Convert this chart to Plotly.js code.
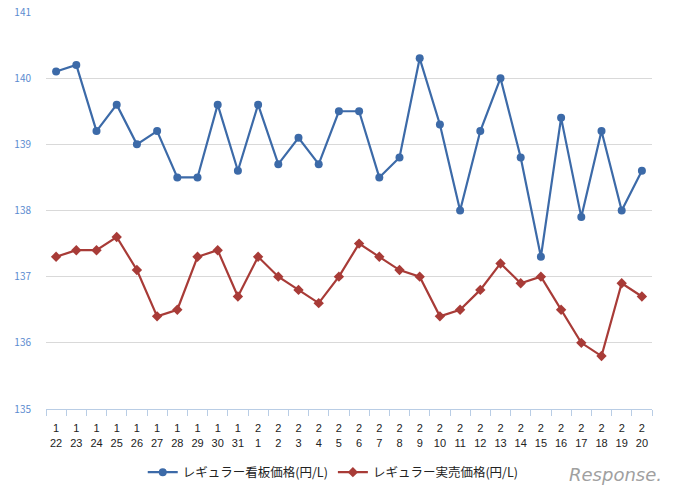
<!DOCTYPE html>
<html>
<head>
<meta charset="utf-8">
<script src="https://cdn.plot.ly/plotly-3.0.1.min.js"></script>
<style>html,body{margin:0;padding:0;background:#fff;}#chart{width:687px;height:500px;}</style>
</head>
<body>
<div id="chart"></div>
<script>
const months = [1,1,1,1,1,1,1,1,1,1,2,2,2,2,2,2,2,2,2,2,2,2,2,2,2,2,2,2,2,2];
const days = [22,23,24,25,26,27,28,29,30,31,1,2,3,4,5,6,7,8,9,10,11,12,13,14,15,16,17,18,19,20];
const signPrice = [140.1,140.2,139.2,139.6,139.0,139.2,138.5,138.5,139.6,138.6,139.6,138.7,139.1,138.7,139.5,139.5,138.5,138.8,140.3,139.3,138.0,139.2,140.0,138.8,137.3,139.4,137.9,139.2,138.0,138.6];
const salePrice = [137.3,137.4,137.4,137.6,137.1,136.4,136.5,137.3,137.4,136.7,137.3,137.0,136.8,136.6,137.0,137.5,137.3,137.1,137.0,136.4,136.5,136.8,137.2,136.9,137.0,136.5,136.0,135.8,136.9,136.7];
const seriesNames = ['レギュラー看板価格(円/L)','レギュラー実売価格(円/L)'];

const cats = months.map((m,i)=>m+'<br>'+days[i]);

const traces = [
  {x: cats, y: signPrice, name: seriesNames[0], type:'scatter', mode:'lines+markers',
   line:{color:'#3c6aa8', width:2.2}, marker:{symbol:'circle', size:8, color:'#3c6aa8'}},
  {x: cats, y: salePrice, name: seriesNames[1], type:'scatter', mode:'lines+markers',
   line:{color:'#a83b37', width:2.2}, marker:{symbol:'diamond', size:8, color:'#a83b37'}}
];

const layout = {
  width:687, height:500,
  margin:{l:46, r:35, t:12, b:89},
  paper_bgcolor:'#fff', plot_bgcolor:'#fff',
  font:{family:'"Noto Sans CJK JP", "DejaVu Sans", sans-serif', size:10, color:'#222'},
  showlegend:true,
  legend:{orientation:'h', x:0.474, xanchor:'center', y:-0.16, yanchor:'middle',
          font:{size:12.5, color:'#222'}, itemwidth:30, tracegroupgap:0},
  xaxis:{type:'category', range:[-0.5, 29.5], showgrid:false, zeroline:false,
         showline:true, linecolor:'#b9cde5', linewidth:1, tickangle:0,
         ticks:'outside', tickson:'boundaries', ticklen:6, tickcolor:'#b9cde5',
         ticklabelstandoff:9,
         tickfont:{size:11, color:'#222', family:'"Liberation Sans", Arial, sans-serif'}, fixedrange:true},
  yaxis:{range:[135,141], dtick:1, showgrid:true, gridcolor:'#d9d9d9', gridwidth:1,
         zeroline:false, showline:false, ticks:'', ticklabelstandoff:14,
         tickfont:{size:10, color:'#5b8bd0'}, fixedrange:true},
  annotations:[{text:'<i>Response.</i>', xref:'paper', yref:'paper',
                x:1.02, y:-0.165, xanchor:'right', yanchor:'middle', showarrow:false,
                font:{size:18, color:'#a0a0a0', family:'"DejaVu Sans", sans-serif'}}]
};

Plotly.newPlot('chart', traces, layout, {displayModeBar:false, staticPlot:true});
</script>
</body>
</html>
